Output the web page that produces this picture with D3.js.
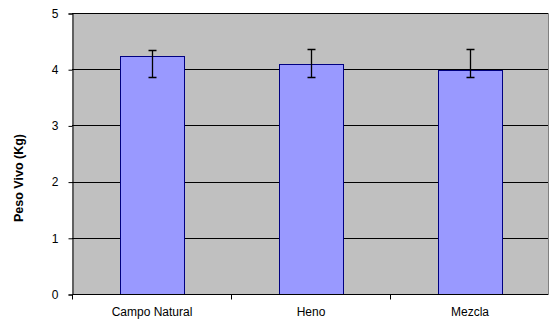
<!DOCTYPE html>
<html>
<head>
<meta charset="utf-8">
<script src="https://cdn.jsdelivr.net/npm/d3@7"></script>
<style>
  html, body { margin: 0; padding: 0; background: #fff; }
  svg { display: block; }
  text { font-family: "Liberation Sans", Arial, sans-serif; }
</style>
</head>
<body>
<svg id="chart" width="560" height="328"></svg>
<script>
const categories = ["Campo Natural", "Heno", "Mezcla"];
const values = [4.23, 4.10, 3.99];
const errUpper = [4.35, 4.36, 4.36];
const errLower = [3.86, 3.86, 3.86];
const yTicks = [0, 1, 2, 3, 4, 5];
const yTitle = "Peso Vivo (Kg)";

const svg = d3.select("#chart");
const margin = { left: 72, right: 11, top: 13, bottom: 34 };
const W = 560, H = 328;
const x0 = margin.left, x1 = W - margin.right;
const yTop = margin.top, yBot = H - margin.bottom;

const x = d3.scaleBand().domain(categories).range([x0, x1]).paddingInner(0).paddingOuter(0);
const y = d3.scaleLinear().domain([0, 5]).range([yBot, yTop]);

// plot area background
svg.append("rect")
  .attr("x", x0).attr("y", yTop)
  .attr("width", x1 - x0).attr("height", yBot - yTop)
  .attr("fill", "#c0c0c0");

// right / top border (gray)
svg.append("path")
  .attr("d", `M${x0},${yTop + 0.5}H${x1 - 0.5}V${yBot}`)
  .attr("fill", "none").attr("stroke", "#808080").attr("stroke-width", 1);

// gridlines
svg.append("g").selectAll("line")
  .data(yTicks.filter(d => d > 0))
  .join("line")
  .attr("x1", x0).attr("x2", x1 - 1)
  .attr("y1", d => Math.round(y(d)) + 0.5).attr("y2", d => Math.round(y(d)) + 0.5)
  .attr("stroke", "#000").attr("stroke-width", 1);

// bars
const bw = x.bandwidth() * 0.4;
svg.append("g").selectAll("rect")
  .data(categories)
  .join("rect")
  .attr("x", (d) => Math.round(x(d) + (x.bandwidth() - bw) / 2) + 0.5)
  .attr("y", (d, i) => Math.round(y(values[i])) + 0.5)
  .attr("width", Math.round(bw))
  .attr("height", (d, i) => Math.round(yBot) - Math.round(y(values[i])))
  .attr("fill", "#9999ff")
  .attr("stroke", "#000080").attr("stroke-width", 1);

// error bars
const eb = svg.append("g").attr("stroke", "#000").attr("stroke-width", 1.3).attr("fill", "none");
categories.forEach((c, i) => {
  const cx = Math.round(x(c) + x.bandwidth() / 2) + 0.5;
  const yt = Math.round(y(errUpper[i])) + 0.5, yb = Math.round(y(errLower[i])) + 0.5;
  eb.append("path").attr("d", `M${cx},${yt}V${yb}M${cx - 4},${yt}H${cx + 4}M${cx - 4},${yb}H${cx + 4}`);
});

// y axis
const yAxis = d3.axisLeft(y).tickValues(yTicks).tickSize(4).tickPadding(10).tickFormat(d3.format("d"));
const gy = svg.append("g").attr("transform", `translate(${x0 + 0.5},0.5)`).call(yAxis);
gy.select(".domain").attr("stroke", "#000");
gy.selectAll(".tick line").attr("stroke", "#000");
gy.selectAll("text").attr("font-size", 12).attr("fill", "#000")
  .attr("font-family", "'Liberation Sans', Arial, sans-serif");

// x axis
const xAxis = d3.axisBottom(x).tickSize(0).tickPadding(13);
const gx = svg.append("g").attr("transform", `translate(0.5,${Math.round(yBot) + 0.5})`).call(xAxis);
gx.select(".domain").attr("stroke", "#000").attr("d", `M${x0},0H${x1 - 1}`);
gx.selectAll("text").attr("font-size", 12).attr("fill", "#000")
  .attr("font-family", "'Liberation Sans', Arial, sans-serif");
// category boundary ticks
const bounds = categories.map(c => x(c)).concat([x1]);
gx.append("g").selectAll("line").data(bounds.slice(0, 3)).join("line")
  .attr("x1", d => Math.round(d)).attr("x2", d => Math.round(d))
  .attr("y1", 0).attr("y2", 5).attr("stroke", "#000");

// y title
svg.append("text")
  .attr("transform", `translate(23,178) rotate(-90)`)
  .attr("text-anchor", "middle")
  .attr("font-size", 12.5).attr("font-weight", "bold").attr("fill", "#000")
  .text(yTitle);
</script>
</body>
</html>
